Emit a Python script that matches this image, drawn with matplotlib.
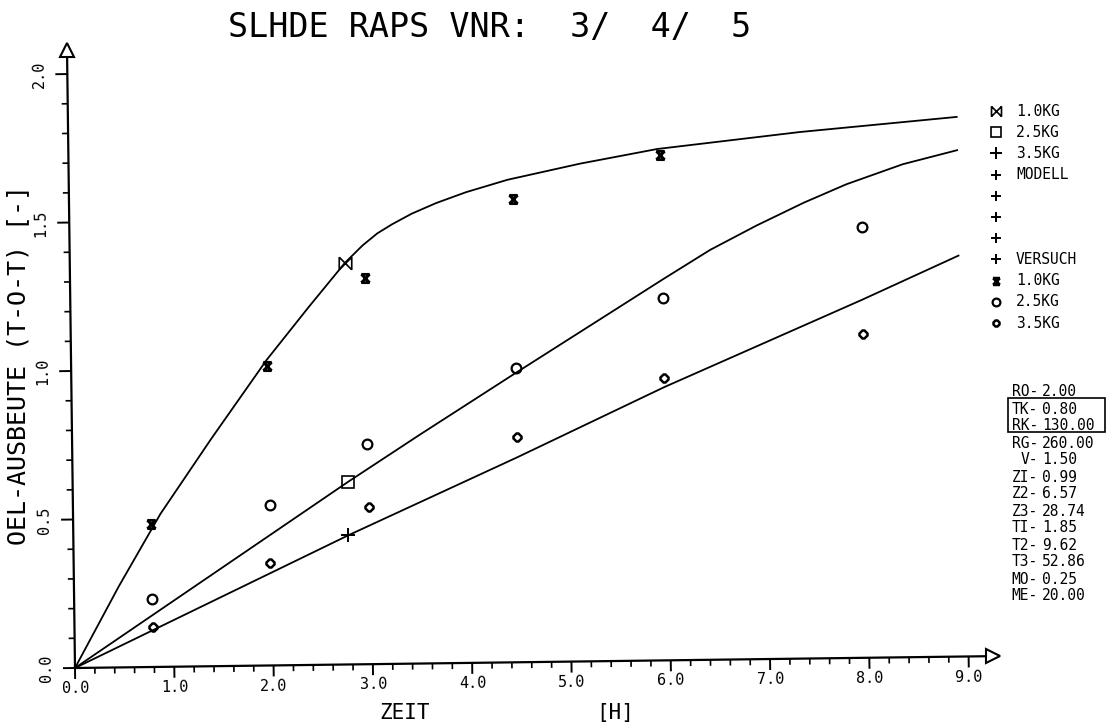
import matplotlib
matplotlib.use("Agg")
import numpy as np
import matplotlib.pyplot as plt
from matplotlib.path import Path
from matplotlib.lines import Line2D
from matplotlib.patches import Rectangle
from matplotlib.transforms import Affine2D

plt.rcParams['font.family'] = ['DejaVu Sans Mono', 'DejaVu Sans']

# ---- measured oil yield (VERSUCH) ----
t_exp_10 = [0.78, 1.97, 2.97, 4.47, 5.96]
y_exp_10 = [0.48, 1.01, 1.30, 1.56, 1.70]
t_exp_25 = [0.78, 1.98, 2.97, 4.48, 5.97, 7.98]
y_exp_25 = [0.23, 0.54, 0.74, 0.99, 1.22, 1.45]
t_exp_35 = [0.79, 1.98, 2.98, 4.48, 5.97, 7.98]
y_exp_35 = [0.135, 0.345, 0.53, 0.76, 0.95, 1.09]

# ---- model curves (MODELL) ----
t_mod_10 = [0.0, 0.45, 0.88, 1.40, 1.97, 2.40, 2.77, 2.95, 3.10, 3.25, 3.45,
            3.70, 4.00, 4.42, 5.15, 5.93, 7.37, 8.95]
y_mod_10 = [0.0, 0.272, 0.515, 0.765, 1.029, 1.205, 1.352, 1.410, 1.450, 1.480, 1.515,
            1.550, 1.585, 1.625, 1.676, 1.722, 1.773, 1.817]
t_mod_25 = [0.0, 2.77, 3.50, 4.48, 5.98, 6.45, 6.92, 7.40, 7.83, 8.40, 8.95]
y_mod_25 = [0.0, 0.614, 0.770, 0.975, 1.285, 1.38, 1.46, 1.535, 1.595, 1.66, 1.705]
t_mod_35 = [0.0, 2.77, 4.48, 5.97, 7.97, 8.95]
y_mod_35 = [0.0, 0.435, 0.690, 0.92, 1.205, 1.35]
mark_idx = [6, 1, 1]   # curve point carrying the model symbol

x_ticks = [0, 1, 2, 3, 4, 5, 6, 7, 8, 9]
y_ticks = [0.0, 0.5, 1.0, 1.5, 2.0]

param_names = ['RO-', 'TK-', 'RK-', 'RG-', 'V-', 'ZI-', 'Z2-', 'Z3-',
               'TI-', 'T2-', 'T3-', 'MO-', 'ME-']
param_vals = ['2.00', '0.80', '130.00', '260.00', '1.50', '0.99', '6.57',
              '28.74', '1.85', '9.62', '52.86', '0.25', '20.00']

# ---- marker shapes ----
M, L = Path.MOVETO, Path.LINETO
hourglass = Path([(-1, -1), (1, 1), (-1, 1), (1, -1), (-1, 1), (1, 1), (-1, -1), (1, -1)],
                 [M, L, M, L, M, L, M, L])
bowtie = Path([(-1, -1), (1, 1), (-1, 1), (1, -1), (-1, -1), (-1, 1), (1, -1), (1, 1)],
              [M, L, M, L, M, L, M, L])

sty = {
    'm10': dict(marker=bowtie, ms=9, mew=1.2, mec='k', mfc='none'),
    'm25': dict(marker='s', ms=9, mew=1.2, mec='k', mfc='none'),
    'm35': dict(marker='+', ms=10, mew=1.4, mec='k'),
    'plus': dict(marker='+', ms=9, mew=1.4, mec='k'),
    'v10': dict(marker=hourglass, ms=6, mew=2.0, mec='k', mfc='none'),
    'v25': dict(marker='o', ms=7, mew=1.6, mec='k', mfc='none'),
    'v35': dict(marker='8', ms=5.5, mew=1.8, mec='k', mfc='none'),
}

W, H = 1107, 727
fig = plt.figure(figsize=(W / 100, H / 100), dpi=100)
fig.patch.set_facecolor('white')

ox, oy = 75, 668          # origin (pixels from top-left)
sx, sy = 99.3, 297.0      # pixels per unit
xlim, ylim = 9.4, 2.1
ax = fig.add_axes([ox / W, (H - oy) / H, xlim * sx / W, ylim * sy / H])
ax.set_xlim(0, xlim)
ax.set_ylim(0, ylim)
ax.axis('off')

# the whole plotter sheet sits slightly rotated
tilt = 0.74
x0, y0 = ax.transData.transform((0.0, 0.0))
T = ax.transData + Affine2D().rotate_deg_around(x0, y0, tilt)

kw = dict(transform=T, clip_on=False, color='k')

# axes with arrow heads
x_end, y_end = 9.25, 2.08
ax.plot([0, x_end], [0, 0], lw=1.6, **kw)
ax.plot([0, 0], [0, y_end], lw=1.6, **kw)
ax.plot([x_end], [0], marker='>', ms=10, mfc='white', mec='k', mew=1.5,
        ls='none', transform=T, clip_on=False, zorder=5)
ax.plot([0], [y_end], marker='^', ms=10, mfc='white', mec='k', mew=1.5,
        ls='none', transform=T, clip_on=False, zorder=5)

# tick marks
x_minor = [v for v in np.arange(0.2, 9.01, 0.2) if abs(v - round(v)) > 1e-6]
y_minor = [v for v in np.arange(0.1, 2.001, 0.1) if abs(v * 2 - round(v * 2)) > 1e-6]
ax.vlines(x_ticks, -11 / sy, 0, lw=1.4, colors='k', transform=T, clip_on=False)
ax.vlines(x_minor, -6 / sy, 0, lw=1.2, colors='k', transform=T, clip_on=False)
ax.hlines(y_ticks, -12 / sx, 0, lw=1.4, colors='k', transform=T, clip_on=False)
ax.hlines(y_minor, -6 / sx, 0, lw=1.2, colors='k', transform=T, clip_on=False)

for v in x_ticks:
    ax.text(v, -13 / sy, f'{v:.1f}', ha='center', va='top', fontsize=11,
            rotation=tilt, rotation_mode='anchor', transform=T)
for v in y_ticks:
    ax.text(-21 / sx, v, f'{v:.1f}', ha='center', va='bottom', fontsize=11,
            rotation=90 + tilt, rotation_mode='anchor', transform=T)

# model curves
lw = 1.3
ax.plot(t_mod_10, y_mod_10, lw=lw, **kw)
ax.plot(t_mod_25, y_mod_25, lw=lw, **kw)
ax.plot(t_mod_35, y_mod_35, lw=lw, **kw)
ax.plot(t_mod_10[mark_idx[0]], y_mod_10[mark_idx[0]], ls='none', transform=T, **sty['m10'])
ax.plot(t_mod_25[mark_idx[1]], y_mod_25[mark_idx[1]], ls='none', transform=T, **sty['m25'])
ax.plot(t_mod_35[mark_idx[2]], y_mod_35[mark_idx[2]], ls='none', transform=T, **sty['m35'])

# experiments
ax.plot(t_exp_10, y_exp_10, ls='none', transform=T, **sty['v10'])
ax.plot(t_exp_25, y_exp_25, ls='none', transform=T, **sty['v25'])
ax.plot(t_exp_35, y_exp_35, ls='none', transform=T, **sty['v35'])


def fx(px):
    return px / W


def fy(py):
    return (H - py) / H


# title and axis titles
fig.text(fx(490), fy(27), 'SLHDE RAPS VNR:  3/  4/  5', ha='center', va='center',
         fontsize=24)
fig.text(fx(18), fy(365), 'OEL-AUSBEUTE (T-O-T) [-]', rotation=90, ha='center',
         va='center', fontsize=18)
fig.text(fx(405), fy(713), 'ZEIT', ha='center', va='center', fontsize=15)
fig.text(fx(615), fy(713), '[H]', ha='center', va='center', fontsize=15)

# legend
legend_rows = [('m10', '1.0KG'), ('m25', '2.5KG'), ('m35', '3.5KG'),
               ('plus', 'MODELL'), ('plus', ''), ('plus', ''), ('plus', ''),
               ('plus', 'VERSUCH'), ('v10', '1.0KG'), ('v25', '2.5KG'),
               ('v35', '3.5KG')]
for i, (key, lab) in enumerate(legend_rows):
    yy = 111 + 21.2 * i
    st = dict(sty[key])
    st['ms'] = st['ms'] * 0.8
    fig.add_artist(Line2D([fx(996)], [fy(yy)], transform=fig.transFigure,
                          ls='none', **st))
    if lab:
        fig.text(fx(1016), fy(yy), lab, ha='left', va='center', fontsize=10.5)

# parameter table
for i, (nm, val) in enumerate(zip(param_names, param_vals)):
    yy = 392 + 17.0 * i
    fig.text(fx(1038), fy(yy), nm, ha='right', va='center', fontsize=10.5)
    fig.text(fx(1042), fy(yy), val, ha='left', va='center', fontsize=10.5)
fig.add_artist(Rectangle((fx(1008), fy(432)), (1105 - 1008) / W, (432 - 398) / H,
                         transform=fig.transFigure, fill=False, lw=1.2, ec='k'))

fig.savefig('out.png', dpi=100, facecolor='white')
